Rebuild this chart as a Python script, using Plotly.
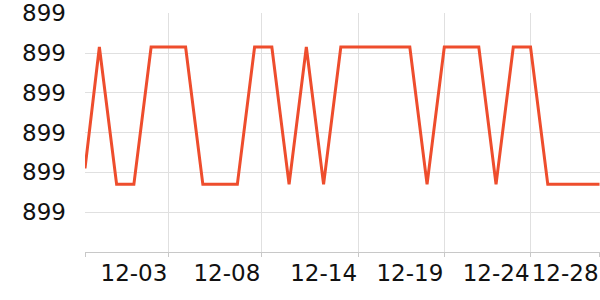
import plotly.graph_objects as go

# Data
dates = ["2023-11-28 04:00",
         "2023-11-29", "2023-11-30", "2023-12-01", "2023-12-02", "2023-12-03",
         "2023-12-04", "2023-12-05", "2023-12-06", "2023-12-07", "2023-12-08",
         "2023-12-09", "2023-12-10", "2023-12-11", "2023-12-12", "2023-12-13",
         "2023-12-14", "2023-12-15", "2023-12-16", "2023-12-17", "2023-12-18",
         "2023-12-19", "2023-12-20", "2023-12-21", "2023-12-22", "2023-12-23",
         "2023-12-24", "2023-12-25", "2023-12-26", "2023-12-27", "2023-12-28"]
H = 899.0103
L = 899.0034
values = [899.0042,
          H, L, L, H, H,
          H, L, L, L, H,
          H, L, H, L, H,
          H, H, H, H, L,
          H, H, H, L, H,
          H, L, L, L, L]

x_tickvals = ["2023-11-28 04:00", "2023-12-03", "2023-12-08 09:20", "2023-12-14",
              "2023-12-19", "2023-12-24", "2023-12-28"]
x_ticktext = ["", "12-03", "12-08", "12-14", "12-19", "12-24", "12-28"]
y_tickvals = [899.002, 899.004, 899.006, 899.008, 899.010, 899.012]
y_ticktext = ["899", "899", "899", "899", "899", "899"]

fig = go.Figure()
fig.add_trace(go.Scatter(
    x=dates, y=values, mode="lines",
    line=dict(color="#ee4d2d", width=3),
    hoverinfo="skip",
))

fig.update_layout(
    width=600, height=300,
    margin=dict(l=85, r=0, t=10, b=48),
    paper_bgcolor="white", plot_bgcolor="white",
    showlegend=False,
    font=dict(family="DejaVu Sans", size=22, color="#111111"),
)
fig.update_xaxes(
    type="date",
    range=["2023-11-28 04:00", "2023-12-28 00:40"],
    tickmode="array", tickvals=x_tickvals, ticktext=x_ticktext,
    ticklabelposition="outside left", tickangle=0,
    ticklabeloverflow="allow",
    tickfont=dict(size=23),
    showgrid=True, gridcolor="#e0e0e0", gridwidth=1,
    showline=True, linecolor="#c8c8c8", linewidth=1,
    ticks="outside", ticklen=4, tickcolor="#c8c8c8",
    zeroline=False,
)
fig.update_yaxes(
    range=[899.000, 899.01201],
    tickmode="array", tickvals=y_tickvals, ticktext=y_ticktext,
    ticklabeloverflow="allow",
    tickfont=dict(size=23),
    showgrid=True, gridcolor="#e0e0e0", gridwidth=1,
    showline=False, ticks="", ticklabelstandoff=18,
    zeroline=False,
)

fig.write_html("out.html")
